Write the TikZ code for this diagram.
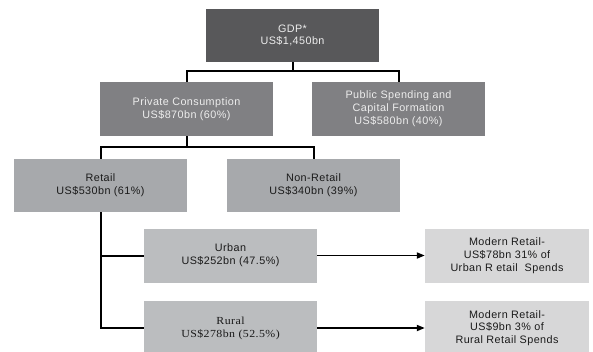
\documentclass[tikz,border=0pt]{standalone}
\usepackage{fontspec}
\setmainfont{Liberation Sans}[LetterSpace=4]
\newfontfamily\ruralfont{Liberation Serif}[FakeStretch=1.1,LetterSpace=4]
\usepackage{tikz}
\usetikzlibrary{arrows.meta,positioning}
\definecolor{gdpgrey}{HTML}{58585A}
\definecolor{midgrey}{HTML}{808083}
\definecolor{retgrey}{HTML}{A7A9AC}
\definecolor{areagrey}{HTML}{BBBDBF}
\definecolor{modgrey}{HTML}{D7D7D8}
\definecolor{ink}{HTML}{1A1A1A}
\definecolor{paper}{HTML}{EDEDED}
\tikzset{
  box/.style={rectangle,align=center,inner sep=0pt,minimum width=173pt,minimum height=54pt,
    font=\fontsize{10.8}{12.8}\selectfont},
  top/.style={box,fill=gdpgrey,text=paper,minimum height=53pt},
  mid/.style={box,fill=midgrey,text=paper},
  ret/.style={box,fill=retgrey,text=ink,minimum height=53pt},
  area/.style={box,fill=areagrey,text=ink},
  modern/.style={box,fill=modgrey,text=ink,minimum width=164pt},
  link/.style={draw=black,line width=2pt},
  flow/.style={-{Triangle[length=8pt,width=6pt]},draw=black,line width=1.8pt}
}
\begin{document}
\begin{tikzpicture}[x=1pt,y=-1pt]
  \useasboundingbox (0,0) rectangle (593,351);
  \clip (0,0) rectangle (593,351);
  % tree of boxes
  \node[top] (gdp) at (292.5,35.5) {GDP*\\US\$1,450bn};
  \node[mid] (priv) at (186.5,109) {Private Consumption\\US\$870bn (60\%)};
  \node[mid] (pub) at (398.5,109) {Public Spending and\\Capital Formation\\US\$580bn (40\%)};
  \node[ret] (retail) at (100.5,185.5) {Retail\\US\$530bn (61\%)};
  \node[ret] (nonret) at (313.5,185.5) {Non-Retail\\US\$340bn (39\%)};
  \node[area] (urban) at (230.5,255.5) {Urban\\US\$252bn (47.5\%)};
  \node[area,font={\ruralfont\fontsize{10.8}{12.8}\selectfont}] (rural) at (230.5,328) {Rural\\US\$278bn (52.5\%)};
  \node[modern] (modurban) at (507,255.5) {Modern Retail-\\US\$78bn 31\% of\\Urban R etail\ \ Spends};
  \node[modern] (modrural) at (507,328) {Modern Retail-\\US\$9bn 3\% of\\Rural Retail Spends};
  % connectors
  \draw[link] (gdp.south) -- ++(0,9) -| (priv.north);
  \draw[link] (gdp.south) -- ++(0,9) -| (pub.north);
  \draw[link] (priv.south) -- ++(0,11) -| (retail.north);
  \draw[link] (priv.south) -- ++(0,11) -| (nonret.north);
  \draw[link] (retail.south) |- (urban.west);
  \draw[link] (retail.south) |- (rural.west);
  \draw[flow] (urban) -- (modurban);
  \draw[flow] (rural) -- (modrural);
\end{tikzpicture}
\end{document}
